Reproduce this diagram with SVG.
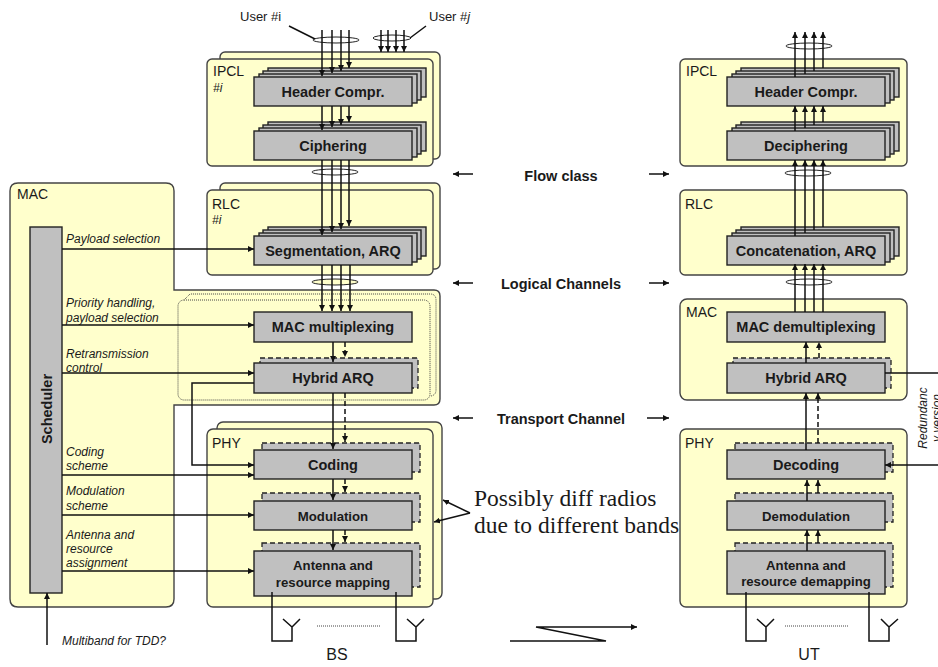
<svg xmlns="http://www.w3.org/2000/svg" xmlns:xlink="http://www.w3.org/1999/xlink" width="938" height="667" viewBox="0 0 938 667">
<style>
text{font-family:"Liberation Sans",Arial,sans-serif;fill:#1a1a1a}
.y{fill:#ffffcc;stroke:#444;stroke-width:1.4}
.b{fill:#c0c0c0;stroke:#222;stroke-width:1.4}
.d{fill:#c0c0c0;stroke:#222;stroke-width:1.3;stroke-dasharray:5 3}
.t{font-size:14.5px;font-weight:bold;text-anchor:middle}
.s{font-size:13.2px;font-weight:bold;text-anchor:middle}
.m{font-size:14.5px;font-weight:bold;text-anchor:middle}
.l{font-size:14px}
.i{font-size:12px;font-style:italic}
.c{fill:none;stroke:#111;stroke-width:1.5}
.a{marker-end:url(#ah)}
.da{stroke-dasharray:5 3}
.e{fill:none;stroke:#222;stroke-width:1}
.dot{fill:none;stroke:#444;stroke-width:1;stroke-dasharray:1 1}
</style>
<defs>
<marker id="ah" markerUnits="userSpaceOnUse" markerWidth="6" markerHeight="6" refX="6" refY="3" orient="auto"><path d="M0 0L6 3L0 6z" fill="#111"/></marker>
<g id="stack"><rect class="b" x="14" y="-9" width="158" height="29"/><rect class="b" x="9" y="-6" width="158" height="29"/><rect class="b" x="5" y="-3" width="158" height="29"/><rect class="b" x="0" y="0" width="158" height="29"/></g>
</defs>
<rect width="938" height="667" fill="#fff"/>

<g id="mac-bs"><path class="y" d="M18 183H166Q174 183 174 191V290H434Q440 290 440 296V399Q440 405 434 405H174V599Q174 607 166 607H18Q10 607 10 599V191Q10 183 18 183Z"/><text class="l" x="17" y="199">MAC</text>
<path class="dot" d="M185 299L190 294H430Q436 294 436 300V390Q436 395 431 396"/><rect class="dot" x="178" y="300" width="252" height="100" rx="6"/></g>

<g id="scheduler"><rect class="b" x="30" y="227" width="32" height="366"/><text class="t" transform="translate(52 409) rotate(-90)">Scheduler</text></g>

<g id="ipcl-bs"><rect class="y" x="220" y="52" width="220" height="107" rx="5"/><rect class="y" x="207" y="59" width="226" height="107" rx="5"/><text class="l" x="213" y="76">IPCL</text><text class="i" x="213" y="92">#i</text></g>
<g id="header-bs"><use xlink:href="#stack" x="254" y="77"/><text class="t" x="333" y="97">Header Compr.</text></g>
<g id="cipher-bs"><use xlink:href="#stack" x="254" y="131"/><text class="t" x="333" y="151">Ciphering</text></g>
<g id="rlc-bs"><rect class="y" x="220" y="183" width="220" height="86" rx="5"/><rect class="y" x="207" y="190" width="226" height="85" rx="5"/><text class="l" x="212" y="209">RLC</text><text class="i" x="212" y="224">#i</text></g>
<g id="seg-bs"><use xlink:href="#stack" x="254" y="236"/><text class="t" x="333" y="256">Segmentation, ARQ</text></g>
<g id="macmux"><rect class="b" x="254" y="312" width="158" height="30"/><text class="t" x="333" y="332">MAC multiplexing</text></g>
<g id="harq-bs"><rect class="d" x="260" y="358" width="158" height="30"/><rect class="b" x="254" y="363" width="158" height="30"/><text class="t" x="333" y="383">Hybrid ARQ</text></g>
<g id="phy-bs"><rect class="y" x="217" y="422" width="225" height="177" rx="6"/><rect class="y" x="207" y="429" width="226" height="178" rx="6"/><text class="l" x="212" y="448">PHY</text></g>
<g id="coding"><rect class="d" x="262" y="443" width="158" height="29"/><rect class="b" x="254" y="450" width="158" height="29"/><text class="t" x="333" y="470">Coding</text></g>
<g id="modulation"><rect class="d" x="262" y="493" width="158" height="29"/><rect class="b" x="254" y="501" width="158" height="29"/><text class="s" x="333" y="521">Modulation</text></g>
<g id="antenna-bs"><rect class="d" x="262" y="543" width="158" height="44"/><rect class="b" x="254" y="551" width="158" height="45"/><text class="s" x="333" y="570">Antenna and</text><text class="s" x="333" y="587">resource mapping</text></g>

<g id="ipcl-ut"><rect class="y" x="680" y="59" width="227" height="107" rx="5"/><text class="l" x="686" y="76">IPCL</text></g>
<g id="header-ut"><use xlink:href="#stack" x="727" y="77"/><text class="t" x="806" y="97">Header Compr.</text></g>
<g id="decipher"><use xlink:href="#stack" x="727" y="131"/><text class="t" x="806" y="151">Deciphering</text></g>
<g id="rlc-ut"><rect class="y" x="680" y="190" width="227" height="85" rx="5"/><text class="l" x="685" y="209">RLC</text></g>
<g id="concat"><use xlink:href="#stack" x="727" y="236"/><text class="t" x="806" y="256">Concatenation, ARQ</text></g>
<g id="mac-ut"><rect class="y" x="680" y="299" width="227" height="101" rx="7"/><text class="l" x="686" y="317">MAC</text></g>
<g id="macdemux"><rect class="b" x="727" y="312" width="158" height="30"/><text class="t" x="806" y="332">MAC demultiplexing</text></g>
<g id="harq-ut"><rect class="d" x="733" y="358" width="158" height="30"/><rect class="b" x="727" y="363" width="158" height="30"/><text class="t" x="806" y="383">Hybrid ARQ</text></g>
<g id="phy-ut"><rect class="y" x="680" y="429" width="227" height="178" rx="6"/><text class="l" x="685" y="448">PHY</text></g>
<g id="decoding"><rect class="d" x="735" y="443" width="158" height="29"/><rect class="b" x="727" y="450" width="158" height="29"/><text class="t" x="806" y="470">Decoding</text></g>
<g id="demod"><rect class="d" x="735" y="493" width="158" height="29"/><rect class="b" x="727" y="501" width="158" height="29"/><text class="s" x="806" y="521">Demodulation</text></g>
<g id="antenna-ut"><rect class="d" x="735" y="543" width="158" height="44"/><rect class="b" x="727" y="551" width="158" height="43"/><text class="s" x="806" y="570">Antenna and</text><text class="s" x="806" y="586">resource demapping</text></g>

<g id="connectors">
<ellipse class="e" cx="336" cy="40" rx="23" ry="3"/><ellipse class="e" cx="392" cy="38" rx="19" ry="3"/>
<ellipse class="e" cx="335" cy="172" rx="23" ry="3"/><ellipse cx="335" cy="282" rx="23" ry="3" fill="#ffffcc" stroke="#222"/>
<path class="c" d="M289 26L315 39M410 38L426 26"/>
<path class="c a" d="M322 30V76"/><path class="c a" d="M332 30V73"/><path class="c a" d="M341 30V71"/><path class="c a" d="M349 30V68"/>
<path class="c a" d="M381 30V52"/><path class="c a" d="M388 30V52"/><path class="c a" d="M396 30V52"/><path class="c a" d="M404 30V52"/>
<path class="c a" d="M322 106V130"/><path class="c a" d="M332 106V127"/><path class="c a" d="M341 106V125"/><path class="c a" d="M349 106V122"/>
<path class="c a" d="M322 160V235"/><path class="c a" d="M332 160V232"/><path class="c a" d="M341 160V229"/><path class="c a" d="M349 160V226"/>
<path class="c a" d="M322 265V311"/><path class="c a" d="M332 265V311"/><path class="c a" d="M341 265V311"/><path class="c a" d="M350 265V311"/>
<path class="c a" d="M333 342V362"/><path class="c a da" d="M345 342V357"/>
<path class="c a" d="M333 393V449"/><path class="c a da" d="M345 393V442"/>
<path class="c a" d="M333 479V500"/><path class="c a da" d="M345 479V492"/>
<path class="c a" d="M333 530V550"/><path class="c a da" d="M345 530V542"/>
<path class="c a" d="M62 249H254"/><path class="c a" d="M62 325H254"/><path class="c a" d="M62 373H254"/><path class="c a" d="M62 475H254"/><path class="c a" d="M62 515H254"/><path class="c a" d="M62 571H254"/>
<path class="c a" d="M254 383H192V465H254"/>
<path class="c a" d="M47 645V593"/>
<path class="c" d="M272 592V641H292V627M283 619L292 627L300 619M396 592V641H416V627M407 619L416 627L424 619"/>
<path class="dot" d="M317 626H380"/>
<ellipse class="e" cx="809" cy="46" rx="23" ry="3"/><ellipse class="e" cx="808" cy="173" rx="23" ry="3"/><ellipse class="e" cx="809" cy="282" rx="23" ry="3"/>
<path class="c a" d="M795 77V32"/><path class="c a" d="M805 74V32"/><path class="c a" d="M814 71V32"/><path class="c a" d="M823 68V32"/>
<path class="c a" d="M795 131V106"/><path class="c a" d="M805 128V106"/><path class="c a" d="M814 125V106"/><path class="c a" d="M823 122V106"/>
<path class="c a" d="M795 236V160"/><path class="c a" d="M805 233V160"/><path class="c a" d="M814 230V160"/><path class="c a" d="M823 227V160"/>
<path class="c a" d="M795 312V264"/><path class="c a" d="M805 312V264"/><path class="c a" d="M814 312V264"/><path class="c a" d="M823 312V264"/>
<path class="c a" d="M806 363V342"/><path class="c a da" d="M819 358V342"/>
<path class="c a" d="M806 450V393"/><path class="c a da" d="M818 443V393"/>
<path class="c a" d="M807 501V480"/><path class="c a" d="M818 493V480"/>
<path class="c a" d="M807 551V530"/><path class="c a" d="M818 543V530"/>
<path class="c" d="M885 373H938"/><path class="c a" d="M938 465H885"/>
<path class="c" d="M746 592V641H766V627M757 619L766 627L774 619M869 592V641H889V627M881 619L889 627L898 619"/>
<path class="dot" d="M785 626H849"/>
<path class="c a" d="M510 641H606L536 627H637"/>
<path class="c a" d="M473 174H453"/><path class="c a" d="M649 174H669"/>
<path class="c a" d="M473 283H453"/><path class="c a" d="M649 283H669"/>
<path class="c a" d="M473 418H453"/><path class="c a" d="M647 418H669"/>
<path class="c a" d="M470 513L443 500"/><path class="c a" d="M470 513L434 522"/>
</g>

<g id="labels">
<text x="240" y="21" font-size="13">User #i</text><text x="429" y="21" font-size="13">User #<tspan font-style="italic">j</tspan></text>
<text class="m" x="561" y="181">Flow class</text><text class="m" x="561" y="289">Logical Channels</text><text class="m" x="561" y="424">Transport Channel</text>
<text class="i" x="66" y="243">Payload selection</text>
<text class="i" x="66" y="307">Priority handling,</text><text class="i" x="66" y="322">payload selection</text>
<text class="i" x="66" y="358">Retransmission</text><text class="i" x="66" y="372">control</text>
<text class="i" x="66" y="456">Coding</text><text class="i" x="66" y="470">scheme</text>
<text class="i" x="66" y="495">Modulation</text><text class="i" x="66" y="510">scheme</text>
<text class="i" x="66" y="539">Antenna and</text><text class="i" x="66" y="553">resource</text><text class="i" x="66" y="567">assignment</text>
<text class="i" x="62" y="645">Multiband for TDD?</text>
<text x="474" y="506" font-size="23.5" style="font-family:'Liberation Serif',serif">Possibly diff radios</text>
<text x="474" y="533" font-size="23.5" style="font-family:'Liberation Serif',serif">due to different bands</text>
<text class="i" text-anchor="middle" transform="translate(927 418) rotate(-90)">Redundanc</text>
<text class="i" text-anchor="middle" transform="translate(941 418) rotate(-90)">y version</text>
<text x="337" y="660" font-size="16" text-anchor="middle">BS</text><text x="809" y="660" font-size="16" text-anchor="middle">UT</text>
</g>
</svg>
